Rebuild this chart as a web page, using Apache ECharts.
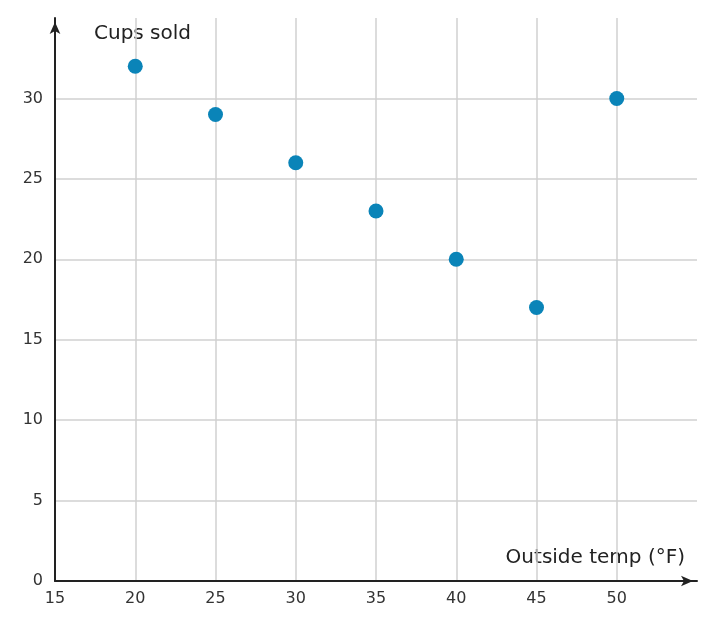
<!DOCTYPE html>
<html><head><meta charset="utf-8">
<script src="https://cdn.jsdelivr.net/npm/echarts@6/dist/echarts.min.js"></script>
<style>html,body{margin:0;padding:0;background:#fff}#c{width:715px;height:629px}</style>
</head><body><div id="c"></div>
<script>
var temps = [20, 25, 30, 35, 40, 45, 50];
var cups = [32, 29, 26, 23, 20, 17, 30];
var xTitle = 'Outside temp (°F)';
var yTitle = 'Cups sold';
var chart = echarts.init(document.getElementById('c'));
var font = 'DejaVu Sans';
chart.setOption({
  animation: false,
  grid: {left: 55, right: 18, top: 18, bottom: 48},
  xAxis: {
    type: 'value', min: 15, max: 55, interval: 5,
    axisLine: {show: true, symbol: ['none', 'arrow'], symbolSize: [8, 12], symbolOffset: [0, -4], lineStyle: {color: '#222', width: 2}},
    axisTick: {show: false},
    axisLabel: {color: '#333', fontSize: 16, fontFamily: font, margin: 10,
      formatter: function (v) { return v === 55 ? '' : v; }},
    splitLine: {show: true, showMinLine: false, showMaxLine: false, lineStyle: {color: '#d0d0d0', width: 1.5}}
  },
  yAxis: {
    type: 'value', min: 0, max: 35, interval: 5,
    axisLine: {show: true, symbol: ['none', 'arrow'], symbolSize: [8, 12], symbolOffset: [0, -4], lineStyle: {color: '#222', width: 2}},
    axisTick: {show: false},
    axisLabel: {color: '#333', fontSize: 16, fontFamily: font, margin: 12,
      formatter: function (v) { return v === 35 ? '' : v; }},
    splitLine: {show: true, showMinLine: false, showMaxLine: false, lineStyle: {color: '#d0d0d0', width: 1.5}}
  },
  graphic: [
    {type: 'text', left: 94, top: 24, style: {text: yTitle, fill: '#222', font: '20px DejaVu Sans'}},
    {type: 'text', right: 30, top: 548, style: {text: xTitle, fill: '#222', font: '20px DejaVu Sans'}}
  ],
  series: [{
    type: 'scatter', symbolSize: 15,
    itemStyle: {color: '#0a84b8', opacity: 1},
    data: temps.map(function (t, i) { return [t, cups[i]]; })
  }]
});
</script></body></html>
